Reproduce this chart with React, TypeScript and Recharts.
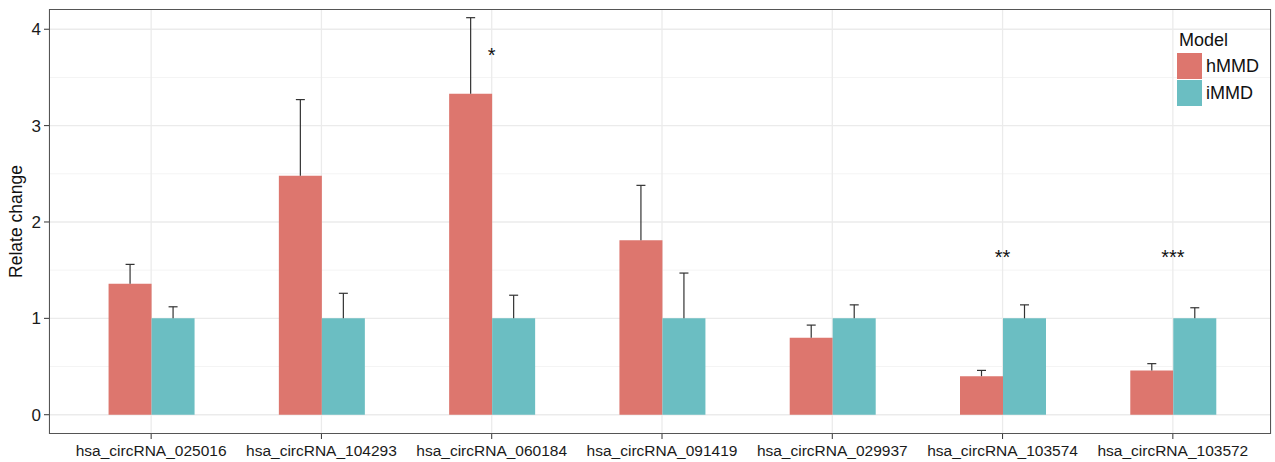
import { BarChart, Bar, XAxis, YAxis, CartesianGrid, ReferenceDot } from 'recharts';

const categories = [
  'hsa_circRNA_025016',
  'hsa_circRNA_104293',
  'hsa_circRNA_060184',
  'hsa_circRNA_091419',
  'hsa_circRNA_029937',
  'hsa_circRNA_103574',
  'hsa_circRNA_103572',
];
const hMMD = [1.36, 2.48, 3.33, 1.81, 0.8, 0.4, 0.46];
const hMMDErr = [0.2, 0.79, 0.79, 0.57, 0.13, 0.06, 0.07];
const iMMD = [1, 1, 1, 1, 1, 1, 1];
const iMMDErr = [0.12, 0.26, 0.24, 0.47, 0.14, 0.14, 0.11];

const yTicks = [0, 1, 2, 3, 4];
const yMinor = [0.5, 1.5, 2.5, 3.5];

const stars = [
  { category: 'hsa_circRNA_060184', y: 3.77, label: '*' },
  { category: 'hsa_circRNA_103574', y: 1.68, label: '**' },
  { category: 'hsa_circRNA_103572', y: 1.68, label: '***' },
];

const series = [
  { name: 'hMMD', color: '#DD766E' },
  { name: 'iMMD', color: '#6BBEC2' },
];

const data = categories.map((c, i) => ({
  name: c,
  hMMD: hMMD[i],
  hErr: hMMDErr[i],
  iMMD: iMMD[i],
  iErr: iMMDErr[i],
}));

const font = '"Liberation Sans", Arial, Helvetica, sans-serif';

// upper-only error bar, stacked on top of its bar
function ErrShape(props: any) {
  const { x, y, width, height } = props;
  const cx = x + width / 2;
  return (
    <g>
      <line x1={cx} x2={cx} y1={y + height} y2={y} stroke="#333" strokeWidth={1.2} />
      <line x1={cx - 4.5} x2={cx + 4.5} y1={y} y2={y} stroke="#333" strokeWidth={1.2} />
    </g>
  );
}

export default function App() {
  return (
    <div style={{ position: 'absolute', left: 0, top: 0, width: 1275, height: 462, fontFamily: font, background: '#fff' }}>
      <BarChart
        width={1275}
        height={462}
        data={data}
        margin={{ top: 9, right: 4, left: 0, bottom: 0 }}
        barCategoryGap="25%"
        barGap={0}
      >
        <CartesianGrid horizontalValues={yMinor} vertical={false} stroke="#f4f4f4" strokeWidth={1} />
        <CartesianGrid horizontalValues={yTicks} stroke="#ebebeb" strokeWidth={1.3} />
        <XAxis
          dataKey="name"
          height={28}
          padding={{ left: 17, right: 13 }}
          axisLine={false}
          tickSize={5}
          tickMargin={6}
          tickLine={{ stroke: '#333' }}
          tick={{ fill: '#1a1a1a', fontSize: 15.5, fontFamily: font }}
          interval={0}
        />
        <YAxis
          width={49}
          domain={[-0.2, 4.21]}
          ticks={yTicks}
          allowDataOverflow
          axisLine={false}
          tickSize={5}
          tickMargin={3}
          tickLine={{ stroke: '#333' }}
          tick={{ fill: '#1a1a1a', fontSize: 17, fontFamily: font }}
          label={{
            value: 'Relate change',
            angle: -90,
            position: 'insideLeft',
            offset: 16,
            style: { textAnchor: 'middle', fill: '#111', fontSize: 17.5, fontFamily: font },
          }}
        />
        <Bar dataKey="hMMD" stackId="h" fill={series[0].color} isAnimationActive={false} />
        <Bar dataKey="hErr" stackId="h" shape={ErrShape} isAnimationActive={false} />
        <Bar dataKey="iMMD" stackId="i" fill={series[1].color} isAnimationActive={false} />
        <Bar dataKey="iErr" stackId="i" shape={ErrShape} isAnimationActive={false} />
        {stars.map((s) => (
          <ReferenceDot
            key={s.category}
            x={s.category}
            y={s.y}
            r={0}
            shape={(p: any) => (
              <text x={p.cx} y={p.cy + 11} textAnchor="middle" fontSize={20} fontFamily={font} fill="#111">
                {s.label}
              </text>
            )}
          />
        ))}
      </BarChart>
      <div
        style={{
          position: 'absolute',
          left: 49,
          top: 9,
          width: 1222,
          height: 425,
          border: '1px solid #555',
          boxSizing: 'border-box',
          pointerEvents: 'none',
        }}
      />
      <div style={{ position: 'absolute', left: 1179, top: 29, fontSize: 18, color: '#111', lineHeight: '22px' }}>Model</div>
      {series.map((s, i) => (
        <div key={s.name} style={{ position: 'absolute', left: 1177, top: 53 + i * 27, height: 26, display: 'flex', alignItems: 'center' }}>
          <div style={{ width: 25, height: 26, background: s.color }} />
          <span style={{ marginLeft: 4, fontSize: 18, color: '#111' }}>{s.name}</span>
        </div>
      ))}
    </div>
  );
}
